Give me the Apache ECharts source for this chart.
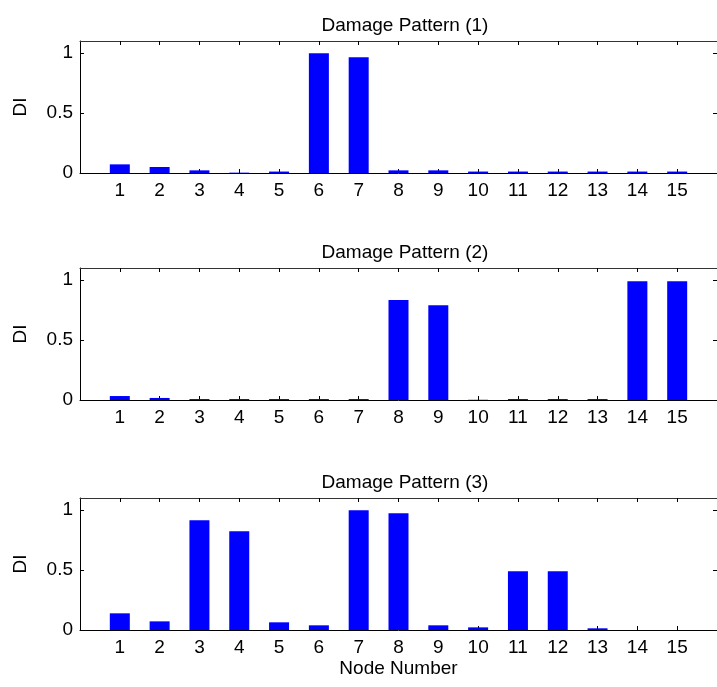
<!DOCTYPE html>
<html>
<head>
<meta charset="utf-8">
<script src="https://cdn.jsdelivr.net/npm/echarts@6/dist/echarts.min.js"></script>
<style>
html,body{margin:0;padding:0;background:#fff;}
#chart{width:717px;height:687px;}
</style>
</head>
<body>
<div id="chart"></div>
<script>
var nodes = [1,2,3,4,5,6,7,8,9,10,11,12,13,14,15];
var pattern1 = [0.072,0.050,0.022,0.003,0.012,0.997,0.964,0.022,0.022,0.012,0.012,0.012,0.012,0.012,0.012];
var pattern2 = [0.033,0.017,0.008,0.008,0.008,0.008,0.008,0.833,0.790,0.002,0.008,0.008,0.008,0.990,0.990];
var pattern3 = [0.139,0.072,0.914,0.822,0.064,0.039,0.997,0.972,0.039,0.022,0.489,0.489,0.014,0,0];
var titles = ['Damage Pattern (1)','Damage Pattern (2)','Damage Pattern (3)'];
var yTicks = [0,0.5,1];

var panelTops = [41,268,498];
var panelH = 132;
var font = 'Liberation Sans, Arial, sans-serif';
var fs = 19;

var chart = echarts.init(document.getElementById('chart'), null, {renderer:'canvas'});
var grids=[], xAxes=[], yAxes=[], series=[], titleArr=[];
var allData=[pattern1,pattern2,pattern3];
for (var i=0;i<3;i++){
  grids.push({left:80, width:641, top:panelTops[i], height:panelH, containLabel:false});
  titleArr.push({text:titles[i], left:400, textAlign:'center', top:panelTops[i]-30,
    textStyle:{fontFamily:font, fontSize:fs, fontWeight:'normal', color:'#000'}});
  var lineStyle={color:'#000', width:1};
  xAxes.push({type:'value', gridIndex:i, min:0, max:16, interval:1, position:'bottom',
    name: i===2 ? 'Node Number' : '', nameLocation:'middle', nameGap:29,
    nameTextStyle:{fontFamily:font, fontSize:fs, color:'#000'},
    axisLine:{show:true, onZero:false, lineStyle:lineStyle},
    axisTick:{show:true, inside:true, length:4, customValues:nodes, lineStyle:lineStyle},
    axisLabel:{show:true, customValues:nodes, margin:8, fontFamily:font, fontSize:fs, color:'#000'},
    splitLine:{show:false}});
  xAxes.push({type:'value', gridIndex:i, min:0, max:16, interval:1, position:'top',
    axisLine:{show:true, onZero:false, lineStyle:{color:'#333', width:1}},
    axisTick:{show:true, inside:true, length:4, customValues:nodes, lineStyle:lineStyle},
    axisLabel:{show:false}, splitLine:{show:false}});
  yAxes.push({type:'value', gridIndex:i, min:0, max:1.1, position:'left',
    name:'DI', nameLocation:'middle', nameGap:50, nameRotate:90,
    nameTextStyle:{fontFamily:font, fontSize:fs, color:'#000'},
    axisLine:{show:true, onZero:false, lineStyle:lineStyle},
    axisTick:{show:true, inside:true, length:4, customValues:yTicks, lineStyle:lineStyle},
    axisLabel:{show:true, customValues:yTicks, margin:7, fontFamily:font, fontSize:fs, color:'#000'},
    splitLine:{show:false}});
  yAxes.push({type:'value', gridIndex:i, min:0, max:1.1, position:'right',
    axisLine:{show:true, onZero:false, lineStyle:lineStyle},
    axisTick:{show:true, inside:true, length:4, customValues:yTicks, lineStyle:lineStyle},
    axisLabel:{show:false}, splitLine:{show:false}});
  series.push({type:'bar', xAxisIndex:i*2, yAxisIndex:i*2, barWidth:20,
    itemStyle:{color:'#0000ff'}, animation:false,
    data: nodes.map(function(n,k){return [n, allData[i][k]];})});
}
chart.setOption({
  animation:false,
  backgroundColor:'#fff',
  title:titleArr,
  grid:grids,
  xAxis:xAxes,
  yAxis:yAxes,
  series:series
});
</script>
</body>
</html>
